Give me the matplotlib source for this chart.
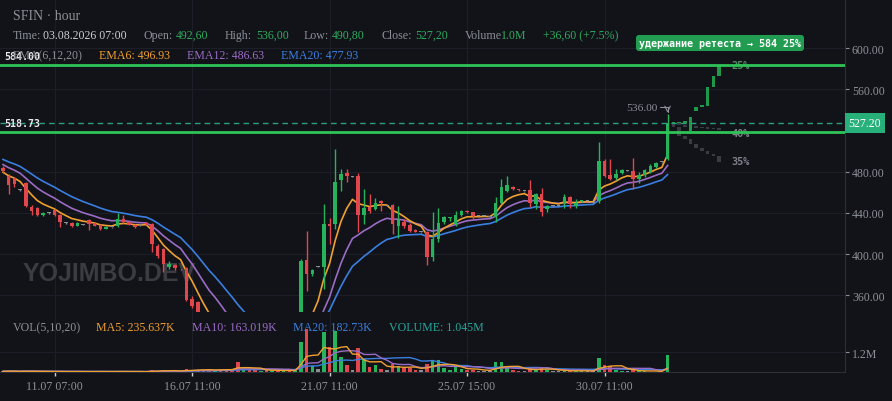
import numpy as np
import pandas as pd
import matplotlib
matplotlib.use("Agg")
import matplotlib.pyplot as plt

# hourly candles (index 0 = first visible bar)
opens = [483.5, 476, 474, 462, 469, 446, 445, 438, 440, 443, 438, 430, 430, 427.5, 428.5, 433, 430, 428.5, 424.5, 426,
         427.5, 434, 431, 428, 428, 430, 429, 408, 405, 387, 389, 385, 386, 356, 353, 335, 325, 318, 322, 310,
         300, 295, 282, 285, 276, 270, 272, 266, 268, 262, 265, 260, 268, 394, 380.5, 387.5, 387, 429, 429, 472,
         478.5, 475, 475.5, 438, 445.5, 443.5, 451.5, 447, 447.5, 427.5, 431.5, 428, 423.5, 421, 421, 397, 414.5, 431, 435, 429,
         438, 442, 440.5, 436.5, 437, 436, 435.5, 450, 461.5, 465.5, 462.5, 461, 462.5, 448.5, 458.5, 443.5, 446.5, 447, 448.5, 455.5,
         447, 451, 451.5, 450, 451.5, 490.5, 477, 473.5, 478.5, 481, 481, 473, 476.5, 480, 484, 489, 492.6]
highs = [485, 478, 475, 463, 470, 448, 446, 441, 441, 444, 439, 431, 431, 431, 429, 434, 431, 429, 427, 426.5,
         440, 438, 432, 429, 428.5, 431, 430, 410, 406, 393, 390, 385.5, 387, 359, 354, 338, 330, 326, 324, 313,
         304, 298, 289, 287, 279, 275, 274, 271, 270, 268, 267, 266, 395, 422.5, 385, 388, 448.5, 435, 502, 483,
         482.5, 475.5, 479, 463, 458, 454, 452, 447.5, 449, 447, 434, 430, 424.5, 421.5, 422.5, 440.5, 445, 437, 436, 442,
         443, 443, 441, 437, 437.5, 436.5, 455, 473, 475.5, 466.5, 463, 461.5, 472, 459, 464, 448, 447, 447.5, 458, 456,
         453, 452.5, 452, 450.5, 509, 492, 492, 483, 482.5, 481.5, 493, 479.5, 483, 487, 489, 489.5, 536]
lows = [479, 458, 465, 461, 446, 438, 437, 437, 439, 437, 426, 429, 426, 427, 428, 423, 427, 423, 424, 425.5,
        426, 430, 428, 425, 427.5, 428, 402, 396, 383, 385, 384, 384.5, 354, 348, 328, 320, 312, 314, 305, 296,
        290, 276, 278, 272, 266, 267, 262, 263, 258, 260, 256, 258, 265, 364.5, 379, 387, 366, 410, 424, 461.5,
        470, 474.5, 421.5, 429, 440, 443, 442, 446.5, 419.5, 416, 425, 421, 421, 420.5, 389.5, 393.5, 411.5, 429, 432, 427.5,
        437, 440, 434, 436, 436.5, 435.5, 431, 448.5, 460, 462.5, 461.5, 460.5, 445.5, 443.5, 437, 441, 446, 446.5, 445, 445,
        445, 450.5, 451, 449.5, 450, 475, 472, 472, 478, 480.5, 463, 469, 474.5, 479, 483.5, 488.5, 490.8]
closes = [480.5, 467, 468, 462, 447, 442, 438, 440, 440, 438, 431, 430, 427.5, 430, 428.5, 429, 427.5, 424, 426, 426,
          434, 431, 428.5, 426, 428, 429, 410, 398.5, 390, 390, 386, 385, 355, 350, 335, 325, 318, 322, 310, 300,
          295, 282, 285, 276, 270, 272, 266, 268, 262, 265, 260, 263, 393.5, 380.5, 384, 387.5, 429, 427.5, 470, 477.5,
          476, 475, 438, 444.5, 442, 450, 449.5, 447, 429, 434, 427.5, 422.5, 421.5, 421, 397, 414.5, 430, 435.5, 436, 438,
          442, 441, 436.5, 436.5, 437, 436, 449.5, 465.5, 467, 463, 462, 461, 449.5, 458.5, 440.5, 447, 446.5, 447, 455, 448.5,
          450, 452, 451.5, 450, 490.5, 476, 473, 477.5, 482, 481, 473, 476.5, 482, 485, 488.5, 489, 527.2]
volumes_k = [40, 60, 45, 20, 70, 40, 35, 25, 20, 30, 45, 20, 25, 25, 20, 40, 25, 30, 20, 15, 50, 35, 20, 20, 15, 20,
             120, 90, 110, 40, 50, 30, 200, 140, 150, 120, 90, 110, 160, 200, 150, 620, 180, 150, 120, 90, 100, 80, 100, 70, 90, 120,
             1820, 2580, 380, 200, 2380, 1480, 2480, 880, 400, 150,
             1420, 780, 300, 400, 200, 100, 500, 350, 250, 250,
             150, 100, 500, 700, 700, 250, 150, 300, 200, 120,
             150, 80, 60, 70, 620, 580, 300, 120, 80, 60,
             250, 200, 250, 100, 50, 40, 100, 80, 80, 60,
             40, 40, 850, 450, 380, 130, 60, 40, 150, 50,
             40, 30, 30, 25, 1045]

# EMA values at the left edge (history is off-screen)
ema_seeds = {6: 479, 12: 488, 20: 493}

# projected scenarios after the last bar (open, close)
bull_open = [527.2, 528.5, 527, 519, 539, 542.4, 544, 561.8, 573]
bull_close = [528.5, 527, 529, 533, 542.4, 545, 561.8, 573, 583.5]
flat_open = [527, 527, 525, 523, 524, 522, 523, 521, 522]
flat_close = [528, 525, 523, 525, 522, 523, 521, 522, 520]
bear_open = [527, 523, 515, 512, 507, 503, 500, 497, 495.4]
bear_close = [523, 515, 512, 507, 503, 500, 497, 495, 489.6]

tick_pos = [9, 33, 57, 81, 105]
tick_labels = ["11.07 07:00", "16.07 11:00", "21.07 11:00", "25.07 15:00", "30.07 11:00"]
price_ticks = [360, 400, 440, 480, 560, 600]

level_hi = 584.0
level_lo = 518.73
last_close = 527.20

BG = "#121319"
GREEN = "#27b35c"
RED = "#e0474c"
GREY_TXT = "#8b8f97"
VAL_GREEN = "#2eaa5e"
ORANGE = "#f0a030"
PURPLE = "#9b6cc4"
BLUE = "#3a7fe0"
TEAL = "#26a69a"
SERIF = "Liberation Serif"
MONO = "DejaVu Sans Mono"

W, H = 892, 402


def fx(x):
    return x / W


def fy(y):
    return 1 - y / H


def ema(values, span, seed):
    s = pd.Series([seed] + list(values))
    return s.ewm(span=span, adjust=False).mean().values[1:]


o = np.array(opens)
h = np.array(highs)
l = np.array(lows)
c = np.array(closes)
vol = np.array(volumes_k) * 1000.0
idx = np.arange(len(c))
colors = np.where(c > o, GREEN, np.where(c < o, RED, "#8a8d94"))

fig = plt.figure(figsize=(W / 100, H / 100), dpi=100, facecolor=BG)
ax = fig.add_axes([0, fy(313), 845 / W, 313 / H])
axv = fig.add_axes([0, fy(373), 845 / W, 60 / H], sharex=ax)
for a in (ax, axv):
    a.set_facecolor(BG)
    for s in ("top", "left"):
        a.spines[s].set_visible(False)
    a.spines["right"].set_color("#2c2f38")
    a.spines["bottom"].set_color("#2c2f38")
    a.grid(True, color="#1c1f27", lw=0.8)
    a.set_axisbelow(True)

# candles
ax.vlines(idx, l, h, colors=colors, lw=1, zorder=3)
body_lo = np.minimum(o, c)
body_h = np.maximum(np.abs(c - o), 0.9)
ax.bar(idx, body_h, bottom=body_lo, width=0.62, color=colors, zorder=4)

# EMAs
ax.plot(idx, ema(c, 20, ema_seeds[20]), color=BLUE, lw=1.2, zorder=2)
ax.plot(idx, ema(c, 12, ema_seeds[12]), color=PURPLE, lw=1.2, zorder=2)
ax.plot(idx, ema(c, 6, ema_seeds[6]), color=ORANGE, lw=1.2, zorder=2)

# projected paths
pidx = np.arange(len(c), len(c) + len(bull_close))
for po, pc, col, al in [(flat_open, flat_close, "#6d7078", 0.45),
                        (bear_open, bear_close, "#6d7078", 0.45),
                        (bull_open, bull_close, "#20a04e", 0.95)]:
    po, pc = np.array(po), np.array(pc)
    ax.bar(pidx, np.maximum(np.abs(pc - po), 0.9), bottom=np.minimum(po, pc),
           width=0.62, color=col, alpha=al, zorder=4)
ax.text(127.2, 583.5, "25%", color="#4f8f62", fontsize=7.4, family=MONO, weight="bold", va="center")
ax.text(127.2, 517.5, "40%", color="#7d8088", fontsize=7.4, family=MONO, weight="bold", va="center")
ax.text(127.2, 490.3, "35%", color="#7d8088", fontsize=7.4, family=MONO, weight="bold", va="center")

# levels
ax.axhline(level_hi, color="#2fc457", lw=2, zorder=5)
ax.axhline(level_lo, color="#2fc457", lw=2, zorder=5)
ax.axhline(last_close, color="#2a9d7a", lw=1, ls=(0, (4, 3)), zorder=5)
for lv in (level_hi, level_lo):
    ax.annotate(f"{lv:.2f}", xy=(0, lv), xycoords=("axes fraction", "data"),
                xytext=(3, 2.5), textcoords="offset points", color="#e8e8e8",
                fontsize=7.2, family=MONO, weight="bold", va="bottom", zorder=7)

# high marker
ax.text(114.3, 542.7, "536.00", color=GREY_TXT, fontsize=8.2, family=SERIF, ha="right", va="center")
ax.annotate("", xy=(116, 537), xytext=(114.6, 542.7),
            arrowprops=dict(arrowstyle="->", color=GREY_TXT, lw=0.8, shrinkA=0, shrinkB=0,
                            connectionstyle="angle,angleA=0,angleB=90,rad=0"))

# watermark
ax.text(fx(23) / (845 / W), 0.125, "YOJIMBO.DEV", transform=ax.transAxes, color="#3b3c42",
        fontsize=18, family="Liberation Sans", weight="bold", va="center", zorder=1)

ax.set_xlim(-0.52, 146.97)
ax.set_ylim(343.7, 647.6)
ax.yaxis.tick_right()
ax.set_yticks(price_ticks)
ax.set_yticklabels([f"{p:.2f}" for p in price_ticks])
ax.tick_params(axis="y", colors="#8b8f97", labelsize=8.6, length=3, width=0.8, pad=2)
ax.tick_params(axis="x", bottom=False, labelbottom=False)
for t in ax.get_yticklabels():
    t.set_family(SERIF)

# volume panel
axv.bar(idx, vol, width=0.62, color=colors, zorder=3)
vs = pd.Series(vol)
axv.plot(idx, vs.rolling(20, min_periods=1).mean(), color=BLUE, lw=1, zorder=4)
axv.plot(idx, vs.rolling(10, min_periods=1).mean(), color=PURPLE, lw=1, zorder=4)
axv.plot(idx, vs.rolling(5, min_periods=1).mean(), color=ORANGE, lw=1, zorder=4)
axv.set_ylim(0, 3.6e6)
axv.yaxis.tick_right()
axv.set_yticks([1.2e6])
axv.set_yticklabels(["1.2M"])
axv.tick_params(axis="y", colors="#8b8f97", labelsize=8.6, length=3, width=0.8, pad=2)
axv.set_xticks(tick_pos)
axv.set_xticklabels(tick_labels)
axv.tick_params(axis="x", colors="#d0d0d0", labelcolor="#8b8f97", labelsize=8.6, length=3, width=1, pad=3)
for t in axv.get_xticklabels() + axv.get_yticklabels():
    t.set_family(SERIF)

# header texts


def seg(x, y, s, color=GREY_TXT, size=8.6, **kw):
    fig.text(fx(x), fy(y), s, color=color, fontsize=size, family=SERIF, va="center", **kw)


seg(13, 16, "SFIN · hour", size=10)
row = [(13, "Time:", GREY_TXT), (43, "03.08.2026 07:00", "#c9ccd1"),
       (143, "Open:", GREY_TXT), (176, "492,60", VAL_GREEN),
       (225, "High:", GREY_TXT), (256, "536,00", VAL_GREEN),
       (304, "Low:", GREY_TXT), (332, "490,80", VAL_GREEN),
       (381, "Close:", GREY_TXT), (415, "527,20", VAL_GREEN),
       (465, "Volume", GREY_TXT), (501, "1.0M", VAL_GREEN),
       (543, "+36,60 (+7.5%)", VAL_GREEN)]
for x, s, col in row:
    seg(x, 36, s, col)
for x, s, col in [(13, "EMA(6,12,20)", GREY_TXT), (99, "EMA6: 496.93", ORANGE),
                  (187, "EMA12: 486.63", PURPLE), (281, "EMA20: 477.93", BLUE)]:
    seg(x, 56, s, col)
for x, s, col in [(13, "VOL(5,10,20)", GREY_TXT), (96, "MA5: 235.637K", ORANGE),
                  (192, "MA10: 163.019K", PURPLE), (293, "MA20: 182.73K", BLUE),
                  (389, "VOLUME: 1.045M", TEAL)]:
    seg(x, 328, s, col)

# signal box and last price tag
fig.text(fx(720), fy(44), "удержание ретеста → 584 25%", color="white", fontsize=7.2,
         family=MONO, weight="bold", ha="center", va="center",
         bbox=dict(boxstyle="round,pad=0.3", fc="#229c50", ec="none"))
fig.text(fx(865), fy(124), "527.20", color="white", fontsize=8.6, family=SERIF,
         ha="center", va="center", bbox=dict(boxstyle="square,pad=0.3", fc="#27b07a", ec="none"))

fig.savefig("out.png", dpi=100, facecolor=BG)
